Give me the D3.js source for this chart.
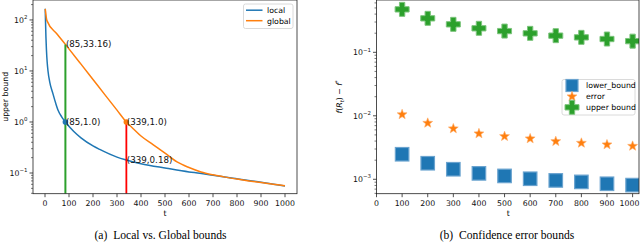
<!DOCTYPE html>
<html><head><meta charset="utf-8">
<script src="https://cdn.jsdelivr.net/npm/d3@7"></script>
<style>
body{margin:0;background:#fff;}
svg{display:block;font-family:"DejaVu Sans",sans-serif;}
text.cap{font-family:"Liberation Serif","Times New Roman",serif;}
</style></head><body>
<script>
// ---- Data ----
const localT = [1, 2, 4, 6, 9, 12.5, 20, 33, 45, 54, 70, 85, 120, 150, 200, 228, 300, 339, 400, 506, 600, 645, 700, 784, 900, 1000];
const localV = [165, 100, 45, 26, 15, 10, 6, 3.6, 2.3, 1.72, 1.25, 1.0, 0.65, 0.49, 0.34, 0.29, 0.205, 0.18, 0.152, 0.124, 0.105, 0.0987, 0.09, 0.0787, 0.066, 0.0556];
const globalT = [1, 8, 50, 85, 150, 200, 250, 300, 339, 370, 400, 450, 500, 550, 600, 650, 700, 750, 800, 850, 900, 950, 1000];
const globalV = [165, 97, 53, 33.16, 13.6, 6.8, 3.4, 1.71, 1.0, 0.72, 0.53, 0.36, 0.245, 0.165, 0.128, 0.105, 0.092, 0.083, 0.076, 0.070, 0.065, 0.060, 0.0565];
const annotations = [
  {t: 85, v: 33.16, label: "(85,33.16)"},
  {t: 85, v: 1.0, label: "(85,1.0)"},
  {t: 339, v: 1.0, label: "(339,1.0)"},
  {t: 339, v: 0.18, label: "(339,0.18)"}
];
const markT = [100, 200, 300, 400, 500, 600, 700, 800, 900, 1000];
const lowerBound = [0.00248, 0.00179, 0.00144, 0.00124, 0.00113, 0.00102, 0.00096, 0.00091, 0.00085, 0.00081];
const errorVals = [0.0105, 0.0077, 0.00628, 0.00525, 0.00475, 0.00437, 0.00396, 0.00373, 0.00352, 0.00334];
const upperBound = [0.475, 0.343, 0.276, 0.239, 0.216, 0.199, 0.183, 0.172, 0.162, 0.150];
const xTicks = [0, 100, 200, 300, 400, 500, 600, 700, 800, 900, 1000];
const yTicksA = [-1, 0, 1, 2];
const yTicksB = [-3, -2, -1];

const W = 640, H = 242;
const svg = d3.select("body").append("svg").attr("width", W).attr("height", H);
const C = {blue: "#1f77b4", orange: "#ff7f0e", green: "#2ca02c", red: "#ff0000"};
const FS = 7.8;

function logAxis(g, y, x0, decades, minorRange) {
  for (let d = minorRange[0]; d <= minorRange[1]; d++) {
    for (let k = 2; k <= 9; k++) {
      const v = k * Math.pow(10, d);
      const yy = y(v);
      if (yy < y.range()[1] - 0.5 || yy > y.range()[0] + 0.5) continue;
      g.append("line").attr("x1", x0 - 2).attr("x2", x0).attr("y1", yy).attr("y2", yy)
        .attr("stroke", "#222").attr("stroke-width", 0.6);
    }
  }
  decades.forEach(d => {
    const yy = y(Math.pow(10, d));
    g.append("line").attr("x1", x0 - 3.5).attr("x2", x0).attr("y1", yy).attr("y2", yy)
      .attr("stroke", "#222").attr("stroke-width", 0.8);
    const t = g.append("text").attr("x", x0 - 5.5).attr("y", yy + 2.8).attr("text-anchor", "end")
      .attr("font-size", FS).attr("fill", "#111");
    t.append("tspan").text("10");
    t.append("tspan").attr("dy", -3.6).attr("font-size", FS * 0.7).text(d < 0 ? "\u2212" + (-d) : String(d));
  });
}

function xAxis(g, x, y0, maxX) {
  xTicks.forEach(v => {
    const xx = x(v);
    g.append("line").attr("x1", xx).attr("x2", xx).attr("y1", y0).attr("y2", y0 + 3.5)
      .attr("stroke", "#222").attr("stroke-width", 0.8);
    const txt = g.append("text").attr("x", xx).attr("y", y0 + 12).attr("text-anchor", "middle")
      .attr("font-size", FS).attr("fill", "#111").text(v);
    const bb = txt.node().getBBox();
    if (maxX && bb.x + bb.width > maxX) txt.attr("x", xx - (bb.x + bb.width - maxX));
  });
}

// ================= Panel (a) =================
const A = {l: 33, r: 297, t: 0, b: 193.7};
const xA = d3.scaleLinear().domain([-50, 1050]).range([A.l, A.r]);
const yA = d3.scaleLog().domain([0.0393, 246]).range([A.b, A.t]);
const ga = svg.append("g");
svg.append("clipPath").attr("id", "clipA").append("rect")
  .attr("x", A.l).attr("y", A.t).attr("width", A.r - A.l).attr("height", A.b - A.t);

const plotA = ga.append("g").attr("clip-path", "url(#clipA)");
const lineSmooth = d3.line().x(d => xA(d[0])).y(d => yA(d[1])).curve(d3.curveMonotoneX);
plotA.append("path").datum(localT.map((t, i) => [t, localV[i]]))
  .attr("d", lineSmooth).attr("fill", "none").attr("stroke", C.blue).attr("stroke-width", 1.5);
plotA.append("path").datum(globalT.map((t, i) => [t, globalV[i]]))
  .attr("d", lineSmooth).attr("fill", "none").attr("stroke", C.orange).attr("stroke-width", 1.5);
plotA.append("line").attr("x1", xA(85)).attr("x2", xA(85)).attr("y1", yA.range()[0]).attr("y2", yA(33.16))
  .attr("stroke", C.green).attr("stroke-width", 2);
plotA.append("line").attr("x1", xA(339)).attr("x2", xA(339)).attr("y1", yA.range()[0]).attr("y2", yA(1.0))
  .attr("stroke", C.red).attr("stroke-width", 1.8);
plotA.append("circle").attr("cx", xA(85)).attr("cy", yA(1.0)).attr("r", 2.8).attr("fill", C.blue);
plotA.append("circle").attr("cx", xA(339)).attr("cy", yA(1.0)).attr("r", 2.8).attr("fill", C.orange);
annotations.forEach(a => {
  ga.append("text").attr("x", xA(a.t) + 0.5).attr("y", yA(a.v) + 3)
    .attr("font-size", 8.7).attr("fill", "#111").text(a.label);
});
ga.append("rect").attr("x", A.l).attr("y", A.t).attr("width", A.r - A.l).attr("height", A.b - A.t)
  .attr("fill", "none").attr("stroke", "#222").attr("stroke-width", 0.8);
logAxis(ga, yA, A.l, yTicksA, [-2, 2]);
xAxis(ga, xA, A.b);
ga.append("text").attr("x", xA(500)).attr("y", 215.5).attr("text-anchor", "middle").attr("font-size", FS).text("t");
ga.append("text").attr("transform", `translate(7.5,${(A.t + A.b) / 2}) rotate(-90)`).attr("text-anchor", "middle")
  .attr("font-size", FS).text("upper bound");
ga.append("rect").attr("x", 243.5).attr("y", 4).attr("width", 49.5).attr("height", 24.5).attr("rx", 2)
  .attr("fill", "#fff").attr("fill-opacity", 0.8).attr("stroke", "#d0d0d0").attr("stroke-width", 0.8);
[["local", C.blue, 10.2], ["global", C.orange, 20.7]].forEach(([lab, col, yy]) => {
  ga.append("line").attr("x1", 246).attr("x2", 262.5).attr("y1", yy).attr("y2", yy).attr("stroke", col).attr("stroke-width", 1.5);
  ga.append("text").attr("x", 267).attr("y", yy + 2.8).attr("font-size", FS).text(lab);
});
ga.append("text").attr("class", "cap").attr("x", 160.5).attr("y", 238.5).attr("text-anchor", "middle")
  .attr("font-size", 11.6).style("white-space", "pre").text("(a)  Local vs. Global bounds");

// ================= Panel (b) =================
const B = {l: 376.5, r: 639, t: 0, b: 193.7};
const xB = d3.scaleLinear().domain([0, 1025]).range([B.l, B.r]);
const yB = d3.scaleLog().domain([0.000593, 0.667]).range([B.b, B.t]);
const gb = svg.append("g");
svg.append("clipPath").attr("id", "clipB").append("rect")
  .attr("x", B.l).attr("y", B.t).attr("width", B.r - B.l).attr("height", B.b - B.t);
const plotB = gb.append("g").attr("clip-path", "url(#clipB)");

function plusPath(s) {
  const h = s / 2, w = s * 0.19;
  return `M${-w},${-h}H${w}V${-w}H${h}V${w}H${w}V${h}H${-w}V${w}H${-h}V${-w}H${-w}Z`;
}
function starPath(R, r) {
  let p = "";
  for (let i = 0; i < 10; i++) {
    const ang = -Math.PI / 2 + i * Math.PI / 5;
    const rr = i % 2 === 0 ? R : r;
    p += (i === 0 ? "M" : "L") + (rr * Math.cos(ang)).toFixed(2) + "," + (rr * Math.sin(ang)).toFixed(2);
  }
  return p + "Z";
}
function drawSquare(g, cx, cy, s) {
  g.append("rect").attr("x", cx - s / 2).attr("y", cy - s / 2).attr("width", s).attr("height", s)
    .attr("fill", C.blue).attr("stroke", "#6aa3cf").attr("stroke-width", 1.2);
}
function drawStar(g, cx, cy) {
  g.append("path").attr("d", starPath(5.2, 2.2)).attr("transform", `translate(${cx},${cy})`)
    .attr("fill", C.orange).attr("stroke", "#ffab66").attr("stroke-width", 0.6);
}
function drawPlus(g, cx, cy) {
  g.append("path").attr("d", plusPath(14)).attr("transform", `translate(${cx},${cy})`)
    .attr("fill", C.green).attr("stroke", "#7cc47c").attr("stroke-width", 1);
}
markT.forEach((t, i) => drawSquare(plotB, xB(t), yB(lowerBound[i]), 13.5));
markT.forEach((t, i) => drawStar(plotB, xB(t), yB(errorVals[i])));
markT.forEach((t, i) => drawPlus(plotB, xB(t), yB(upperBound[i])));

gb.append("rect").attr("x", B.l).attr("y", B.t).attr("width", B.r - B.l).attr("height", B.b - B.t)
  .attr("fill", "none").attr("stroke", "#222").attr("stroke-width", 0.8);
logAxis(gb, yB, B.l, yTicksB, [-4, -1]);
xAxis(gb, xB, B.b, 639.5);
gb.append("text").attr("x", xB(515)).attr("y", 215.5).attr("text-anchor", "middle").attr("font-size", FS).text("t");
const yl = gb.append("text").attr("transform", `translate(342,${(B.t + B.b) / 2}) rotate(-90)`)
  .attr("text-anchor", "middle").attr("font-size", FS);
yl.append("tspan").attr("font-style", "italic").text("f");
yl.append("tspan").text("(");
yl.append("tspan").attr("font-style", "italic").text("R");
yl.append("tspan").attr("font-style", "italic").attr("font-size", FS * 0.7).attr("dy", 1.5).text("t");
yl.append("tspan").attr("dy", -1.5).text(") \u2212 ");
yl.append("tspan").attr("font-style", "italic").text("f");
yl.append("tspan").attr("font-size", FS * 0.7).attr("dy", -3).text("*");

gb.append("rect").attr("x", 562).attr("y", 79.5).attr("width", 73).attr("height", 35.5).attr("rx", 2)
  .attr("fill", "#fff").attr("fill-opacity", 0.8).attr("stroke", "#d0d0d0").attr("stroke-width", 0.8);
drawSquare(gb, 572, 85.5, 12);
drawStar(gb, 572, 96.5);
drawPlus(gb, 572, 107.3);
[["lower_bound", 85.5], ["error", 96.5], ["upper bound", 107.3]].forEach(([lab, yy]) => {
  gb.append("text").attr("x", 586).attr("y", yy + 2.8).attr("font-size", FS).text(lab);
});
gb.append("text").attr("class", "cap").attr("x", 507).attr("y", 238.5).attr("text-anchor", "middle")
  .attr("font-size", 11.6).style("white-space", "pre").text("(b)  Confidence error bounds");
</script>
</body></html>
